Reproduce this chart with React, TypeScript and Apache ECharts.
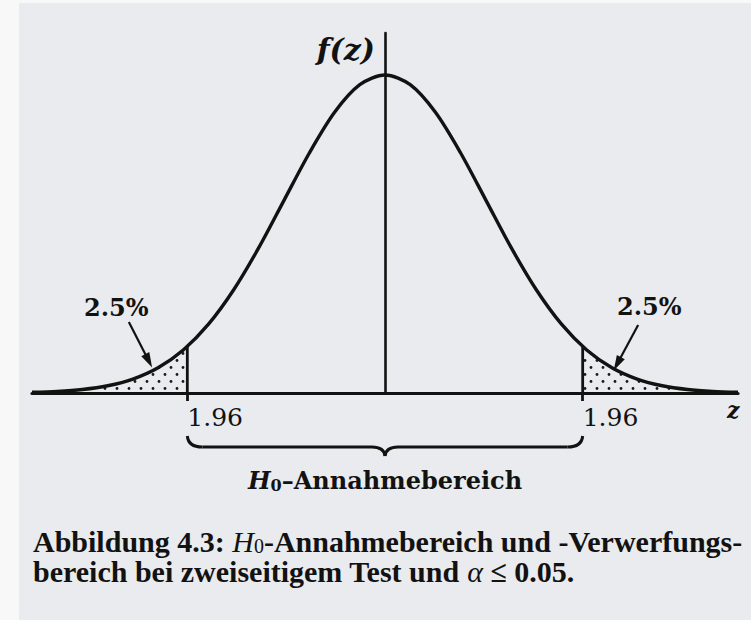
import React, { useEffect, useRef } from "react";
import * as echarts from "echarts";

// z values and read-off density f(z)
const Z_VALUES = [-3.5, -3.25, -3, -2.75, -2.5, -2.25, -2, -1.75, -1.5, -1.25, -1, -0.75, -0.5, -0.25, 0, 0.25, 0.5, 0.75, 1, 1.25, 1.5, 1.75, 2, 2.25, 2.5, 2.75, 3, 3.25, 3.5];
const DENSITY = [0.0009, 0.002, 0.0044, 0.0091, 0.0175, 0.0317, 0.054, 0.0863, 0.1295, 0.1826, 0.242, 0.3011, 0.3521, 0.3867, 0.3989, 0.3867, 0.3521, 0.3011, 0.242, 0.1826, 0.1295, 0.0863, 0.054, 0.0317, 0.0175, 0.0091, 0.0044, 0.002, 0.0009];

const LEFT_TAIL_Z = [-3.5, -3.25, -3, -2.75, -2.5, -2.25, -2, -1.96];
const LEFT_TAIL_F = [0.0009, 0.002, 0.0044, 0.0091, 0.0175, 0.0317, 0.054, 0.0584];
const RIGHT_TAIL_Z = [1.96, 2, 2.25, 2.5, 2.75, 3, 3.25, 3.5];
const RIGHT_TAIL_F = [0.0584, 0.054, 0.0317, 0.0175, 0.0091, 0.0044, 0.002, 0.0009];

const CRITICAL_VALUES = [-1.96, 1.96];
const CRITICAL_DENSITY = 0.0584;

// arrow start / head points (data space)
const ARROW_STARTS = [[-2.54, 0.089], [2.51, 0.0853]];
const ARROW_HEADS = [[-2.343, 0.0404], [2.303, 0.0366]];

const TAIL_LABEL = "2.5%";
const REGION_LABEL = "Annahmebereich";
const Y_LABEL = "f(z)";
const X_LABEL = "z";
const CAPTION_1 = ["Abbildung 4.3: ", "H", "0", "-Annahmebereich und -Verwerfungs-"];
const CAPTION_2 = ["bereich bei zweiseitigem Test und ", "α", " ≤ 0.05."];

const X_MIN = -3.5;
const X_MAX = 3.5;
const Y_MAX = 0.4516;

const INK = "#121212";
const SERIF = "DejaVu Serif";
const CAP_FONT = "Liberation Serif";

export default function App() {
  const ref = useRef<HTMLDivElement>(null);

  useEffect(() => {
    const chart = echarts.init(ref.current!, null, { renderer: "svg" });

    const canvas = document.createElement("canvas");
    canvas.width = 12;
    canvas.height = 14;
    const ctx = canvas.getContext("2d")!;
    ctx.fillStyle = "#1a1a1a";
    [[3, 3.5], [9, 10.5]].forEach(([x, y]) => {
      ctx.beginPath();
      ctx.arc(x, y, 1.4, 0, Math.PI * 2);
      ctx.fill();
    });
    const dots: any = { image: canvas, repeat: "repeat", imageWidth: 12, imageHeight: 14 };

    const zip = (a: number[], b: number[]) => a.map((v, i) => [v, b[i]]);

    const option: any = {
      animation: false,
      backgroundColor: "#e9ebee",
      grid: { left: 32, right: 13, top: 33, bottom: 227, containLabel: false, outerBoundsMode: "none" },
      xAxis: {
        type: "value",
        min: X_MIN,
        max: X_MAX,
        axisLine: { onZero: true, lineStyle: { color: INK, width: 3.2 } },
        splitLine: { show: false },
        axisTick: { show: true, customValues: CRITICAL_VALUES, length: 8, lineStyle: { color: INK, width: 2.8 } },
        axisLabel: {
          show: true,
          customValues: CRITICAL_VALUES,
          formatter: (v: number) => Math.abs(v).toFixed(2),
          align: "left",
          margin: 12,
          fontFamily: SERIF,
          fontSize: 25,
          color: INK,
        },
      },
      yAxis: {
        type: "value",
        min: 0,
        max: Y_MAX,
        axisLine: { show: true, onZero: true, lineStyle: { color: INK, width: 2.6 } },
        axisTick: { show: false },
        axisLabel: { show: false },
        splitLine: { show: false },
      },
      series: [
        {
          type: "line",
          data: zip(LEFT_TAIL_Z, LEFT_TAIL_F),
          smooth: 0.3,
          symbol: "none",
          lineStyle: { width: 0 },
          areaStyle: { color: dots, opacity: 1 },
          silent: true,
          z: 1,
        },
        {
          type: "line",
          data: zip(RIGHT_TAIL_Z, RIGHT_TAIL_F),
          smooth: 0.3,
          symbol: "none",
          lineStyle: { width: 0 },
          areaStyle: { color: dots, opacity: 1 },
          silent: true,
          z: 1,
        },
        ...CRITICAL_VALUES.map((c) => ({
          type: "line",
          data: [[c, 0], [c, CRITICAL_DENSITY]],
          symbol: "none",
          lineStyle: { color: INK, width: 2.8 },
          silent: true,
          z: 3,
        })),
        {
          type: "line",
          data: zip(Z_VALUES, DENSITY),
          smooth: 0.3,
          symbol: "none",
          lineStyle: { color: INK, width: 3.4 },
          silent: true,
          z: 4,
          markLine: {
            silent: true,
            symbol: ["none", "triangle"],
            symbolSize: [9, 15],
            label: { show: false },
            lineStyle: { color: INK, width: 2.2, type: "solid" },
            emphasis: { disabled: true },
            data: ARROW_STARTS.map((s, i) => [{ coord: s }, { coord: ARROW_HEADS[i] }]),
          },
        },
      ],
    };
    chart.setOption(option);

    const [xl, y0] = chart.convertToPixel({ xAxisIndex: 0, yAxisIndex: 0 }, [CRITICAL_VALUES[0], 0]) as number[];
    const [xr] = chart.convertToPixel({ xAxisIndex: 0, yAxisIndex: 0 }, [CRITICAL_VALUES[1], 0]) as number[];
    const [xc] = chart.convertToPixel({ xAxisIndex: 0, yAxisIndex: 0 }, [0, 0]) as number[];

    const bTop = y0 + 43;
    const bMid = y0 + 54;
    const bTip = y0 + 63;
    const braceStyle = { stroke: INK, lineWidth: 3, fill: "none" };
    const brace = [
      { type: "bezierCurve", shape: { x1: xl, y1: bTop, cpx1: xl + 1, cpy1: bMid, x2: xl + 15, y2: bMid }, style: braceStyle },
      { type: "line", shape: { x1: xl + 15, y1: bMid, x2: xc - 13, y2: bMid }, style: braceStyle },
      { type: "bezierCurve", shape: { x1: xc - 13, y1: bMid, cpx1: xc - 1, cpy1: bMid, x2: xc, y2: bTip }, style: braceStyle },
      { type: "bezierCurve", shape: { x1: xc, y1: bTip, cpx1: xc + 1, cpy1: bMid, x2: xc + 13, y2: bMid }, style: braceStyle },
      { type: "line", shape: { x1: xc + 13, y1: bMid, x2: xr - 15, y2: bMid }, style: braceStyle },
      { type: "bezierCurve", shape: { x1: xr - 15, y1: bMid, cpx1: xr - 1, cpy1: bMid, x2: xr, y2: bTop }, style: braceStyle },
    ];

    const graphics: any[] = [
      { type: "rect", shape: { x: 0, y: 0, width: 19, height: 620 }, style: { fill: "#f8f8f8" }, z: -1 },
      { type: "rect", shape: { x: 0, y: 0, width: 751, height: 3 }, style: { fill: "#f8f8f8" }, z: -1 },
      {
        type: "text",
        x: 375,
        y: 49,
        style: { text: Y_LABEL, fontFamily: SERIF, fontSize: 30, fontWeight: "bold", fontStyle: "italic", fill: INK, align: "right", verticalAlign: "middle" },
      },
      {
        type: "text",
        x: 727,
        y: 410,
        style: { text: X_LABEL, fontFamily: SERIF, fontSize: 22, fontWeight: "bold", fontStyle: "italic", fill: INK, align: "left", verticalAlign: "middle" },
      },
      {
        type: "text",
        x: 84,
        y: 307,
        style: { text: TAIL_LABEL, fontFamily: SERIF, fontSize: 24, fontWeight: "bold", fill: INK, align: "left", verticalAlign: "middle" },
      },
      {
        type: "text",
        x: 617,
        y: 306,
        style: { text: TAIL_LABEL, fontFamily: SERIF, fontSize: 24, fontWeight: "bold", fill: INK, align: "left", verticalAlign: "middle" },
      },
      ...brace,
      {
        type: "text",
        x: xc,
        y: 467,
        style: {
          text: `{h|H}{s|0}{t|–${REGION_LABEL}}`,
          align: "center",
          verticalAlign: "top",
          fill: INK,
          rich: {
            h: { fontFamily: SERIF, fontSize: 24, fontWeight: "bold", fontStyle: "italic", lineHeight: 26, fill: INK },
            s: { fontFamily: SERIF, fontSize: 16, fontWeight: "bold", lineHeight: 12, verticalAlign: "bottom", fill: INK },
            t: { fontFamily: SERIF, fontSize: 24, fontWeight: "bold", lineHeight: 26, fill: INK },
          },
        },
      },
      {
        type: "text",
        x: 33,
        y: 527,
        style: {
          text: `{b|${CAPTION_1[0]}}{i|${CAPTION_1[1]}}{s|${CAPTION_1[2]}}{b|${CAPTION_1[3]}}`,
          align: "left",
          verticalAlign: "top",
          fill: INK,
          rich: {
            b: { fontFamily: CAP_FONT, fontSize: 30, fontWeight: "bold", lineHeight: 29, fill: INK },
            i: { fontFamily: CAP_FONT, fontSize: 30, fontStyle: "italic", lineHeight: 29, fill: INK },
            s: { fontFamily: CAP_FONT, fontSize: 20, lineHeight: 16, verticalAlign: "bottom", fill: INK },
          },
        },
      },
      {
        type: "text",
        x: 33,
        y: 557,
        style: {
          text: `{b|${CAPTION_2[0]}}{i|${CAPTION_2[1]}}{b|${CAPTION_2[2]}}`,
          align: "left",
          verticalAlign: "top",
          fill: INK,
          rich: {
            b: { fontFamily: CAP_FONT, fontSize: 30, fontWeight: "bold", lineHeight: 29, fill: INK },
            i: { fontFamily: CAP_FONT, fontSize: 30, fontStyle: "italic", lineHeight: 29, fill: INK },
          },
        },
      },
    ];

    chart.setOption({ graphic: graphics });

    return () => chart.dispose();
  }, []);

  return <div ref={ref} style={{ position: "fixed", left: 0, top: 0, width: 751, height: 620 }} />;
}
